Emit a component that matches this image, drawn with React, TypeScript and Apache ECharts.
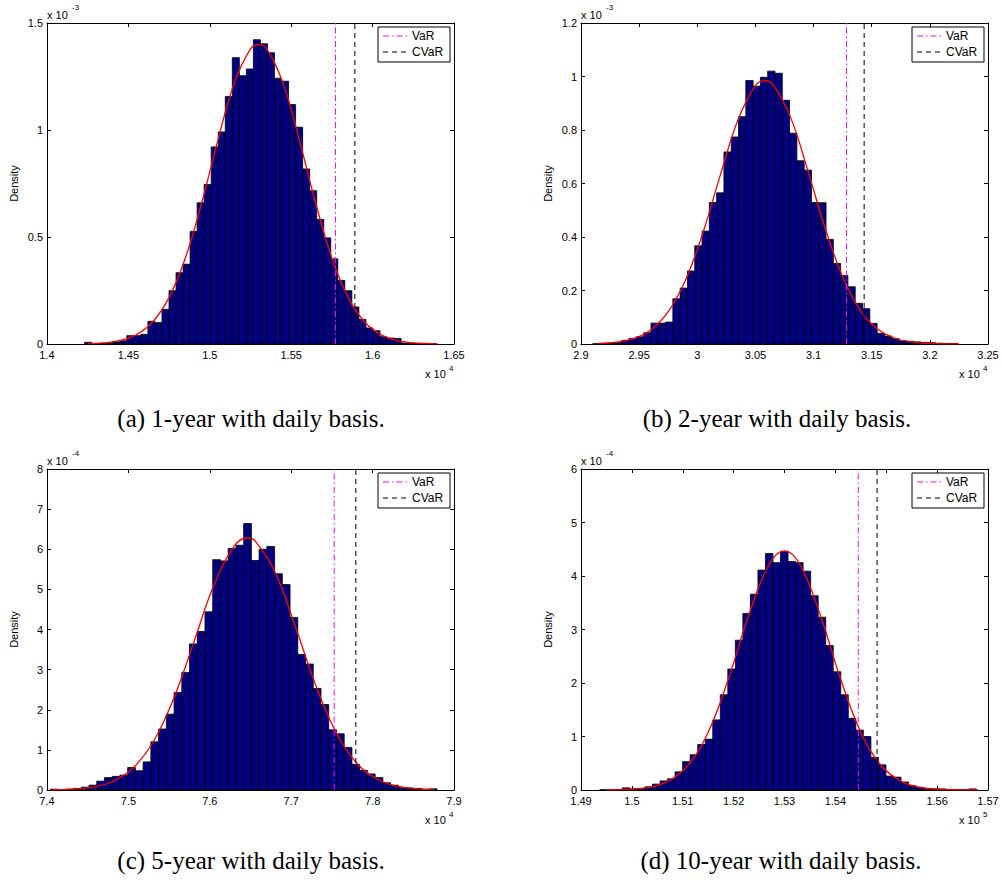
import { useEffect, useRef } from "react";
import * as echarts from "echarts";

// ---------- data ----------
const captions = [
  "(a) 1-year with daily basis.",
  "(b) 2-year with daily basis.",
  "(c) 5-year with daily basis.",
  "(d) 10-year with daily basis.",
];

// (a) 1-year : x in 1e4, density in 1e-3
const binStartA = 1.4231;
const binWidthA = 0.00432;
const densityA = [0.008, 0.002, 0.003, 0.005, 0.01, 0.015, 0.039, 0.039, 0.045, 0.106, 0.1, 0.162, 0.249, 0.333, 0.373, 0.526, 0.66, 0.745, 0.921, 0.991, 1.156, 1.338, 1.254, 1.285, 1.422, 1.403, 1.361, 1.242, 1.228, 1.119, 1.013, 0.818, 0.716, 0.582, 0.496, 0.398, 0.297, 0.249, 0.173, 0.115, 0.075, 0.062, 0.034, 0.028, 0.026, 0.005, 0.004, 0.003, 0.002, 0.002];
const fitXA = [1.425, 1.435, 1.445, 1.455, 1.465, 1.475, 1.485, 1.495, 1.505, 1.515, 1.525, 1.53, 1.535, 1.545, 1.555, 1.565, 1.575, 1.585, 1.595, 1.605, 1.615, 1.625, 1.635, 1.64];
const fitYA = [0.0016, 0.0054, 0.0164, 0.0439, 0.104, 0.218, 0.402, 0.659, 0.953, 1.219, 1.379, 1.4, 1.379, 1.219, 0.953, 0.659, 0.402, 0.218, 0.104, 0.0439, 0.0164, 0.0054, 0.0016, 0.0008];
const varA = 1.5772;
const cvarA = 1.5891;

// (b) 2-year : x in 1e4, density in 1e-3
const binStartB = 2.91;
const binWidthB = 0.006273;
const densityB = [0.001, 0.001, 0.003, 0.005, 0.014, 0.021, 0.027, 0.042, 0.078, 0.078, 0.082, 0.169, 0.209, 0.273, 0.367, 0.422, 0.529, 0.565, 0.718, 0.774, 0.85, 0.985, 0.964, 0.997, 1.02, 1.012, 0.911, 0.788, 0.685, 0.65, 0.529, 0.528, 0.391, 0.301, 0.256, 0.214, 0.152, 0.132, 0.077, 0.04, 0.03, 0.02, 0.012, 0.01, 0.008, 0.006, 0.005, 0.003, 0.002, 0.002];
const fitXB = [2.915, 2.93, 2.945, 2.96, 2.975, 2.99, 3.005, 3.02, 3.035, 3.05, 3.058, 3.065, 3.08, 3.095, 3.11, 3.125, 3.14, 3.155, 3.17, 3.185, 3.2, 3.215, 3.225];
const fitYB = [0.0019, 0.0067, 0.0201, 0.0527, 0.1206, 0.2405, 0.418, 0.634, 0.838, 0.966, 0.985, 0.97, 0.85, 0.649, 0.432, 0.251, 0.1268, 0.0559, 0.0215, 0.0072, 0.0021, 0.0005, 0.0002];
const varB = 3.1283;
const cvarB = 3.1435;

// (c) 5-year : x in 1e4, density in 1e-4
const binStartC = 7.4041;
const binWidthC = 0.0095;
const densityC = [0.02, 0.01, 0.02, 0.04, 0.07, 0.12, 0.22, 0.31, 0.34, 0.37, 0.56, 0.48, 0.7, 1.2, 1.52, 1.89, 2.43, 2.93, 3.64, 3.95, 4.44, 5.74, 5.71, 6.02, 6.1, 6.64, 5.72, 6.0, 6.07, 5.39, 5.12, 4.3, 3.38, 3.14, 2.53, 2.13, 1.5, 1.4, 1.06, 0.64, 0.49, 0.4, 0.31, 0.18, 0.12, 0.06, 0.05, 0.04, 0.02, 0.03];
const fitXC = [7.405, 7.43, 7.455, 7.48, 7.505, 7.53, 7.555, 7.58, 7.605, 7.63, 7.646, 7.655, 7.68, 7.705, 7.73, 7.755, 7.78, 7.805, 7.83, 7.855, 7.875];
const fitYC = [0.0047, 0.0193, 0.068, 0.206, 0.534, 1.183, 2.248, 3.66, 5.1, 6.08, 6.28, 6.22, 5.44, 4.08, 2.62, 1.438, 0.678, 0.273, 0.094, 0.028, 0.0094];
const varC = 7.7528;
const cvarC = 7.7794;

// (d) 10-year : x in 1e5, density in 1e-4
const binStartD = 1.4937;
const binWidthD = 0.00148;
const densityD = [0.005, 0.005, 0.01, 0.04, 0.02, 0.03, 0.06, 0.11, 0.17, 0.21, 0.34, 0.53, 0.66, 0.85, 0.95, 1.31, 1.78, 2.26, 2.8, 3.3, 3.66, 4.11, 4.42, 4.25, 4.46, 4.27, 4.25, 4.09, 3.63, 3.23, 2.7, 2.21, 1.78, 1.34, 1.12, 1.0, 0.61, 0.47, 0.26, 0.24, 0.15, 0.08, 0.05, 0.03, 0.02, 0.02, 0.01, 0.005, 0.005, 0.02];
const fitXD = [1.495, 1.499, 1.503, 1.507, 1.511, 1.515, 1.519, 1.523, 1.527, 1.53, 1.533, 1.537, 1.541, 1.545, 1.549, 1.553, 1.557, 1.561, 1.565, 1.568];
const fitYD = [0.002, 0.0104, 0.0448, 0.159, 0.458, 1.08, 2.083, 3.28, 4.22, 4.47, 4.22, 3.28, 2.083, 1.08, 0.458, 0.159, 0.0448, 0.0104, 0.002, 0.0005];
const varD = 1.5445;
const cvarD = 1.5482;

// axis ranges and exponent labels
const xMins = [1.4, 2.9, 7.4, 1.49];
const xMaxs = [1.65, 3.25, 7.9, 1.57];
const xSteps = [0.05, 0.05, 0.1, 0.01];
const yMaxs = [1.5, 1.2, 8, 6];
const ySteps = [0.5, 0.2, 1, 1];
const xExps = ["4", "4", "4", "5"];
const yExps = ["-3", "-3", "-4", "-4"];

// ---------- chart ----------
const SANS = "'Liberation Sans', Arial, Helvetica, sans-serif";
const SERIF = "'Liberation Serif', 'Times New Roman', serif";
const fmt = (v: number) => String(parseFloat(v.toFixed(6)));

const PW = 407;
const PH = 321;
const grids = [
  { left: 47, top: 23 },
  { left: 581, top: 23 },
  { left: 47, top: 469 },
  { left: 581, top: 469 },
];
const captionCx = [251, 777, 251, 781];
const captionCy = [418, 418, 860, 860];

function buildOption() {
  const panels = [
    { start: binStartA, width: binWidthA, dens: densityA, fx: fitXA, fy: fitYA, v: varA, c: cvarA },
    { start: binStartB, width: binWidthB, dens: densityB, fx: fitXB, fy: fitYB, v: varB, c: cvarB },
    { start: binStartC, width: binWidthC, dens: densityC, fx: fitXC, fy: fitYC, v: varC, c: cvarC },
    { start: binStartD, width: binWidthD, dens: densityD, fx: fitXD, fy: fitYD, v: varD, c: cvarD },
  ];

  const grid: any[] = [];
  const xAxis: any[] = [];
  const yAxis: any[] = [];
  const series: any[] = [];
  const graphic: any[] = [];

  panels.forEach((p, i) => {
    const g = grids[i];
    grid.push({ left: g.left, top: g.top, width: PW, height: PH, containLabel: false });
    const baseAxisLine = { show: true, onZero: false, lineStyle: { color: "#000", width: 1 } };
    const baseTick = { show: true, inside: true, length: 4, lineStyle: { color: "#000", width: 1 } };
    const xCommon = {
      type: "value",
      gridIndex: i,
      min: xMins[i],
      max: xMaxs[i],
      interval: xSteps[i],
      axisLine: baseAxisLine,
      axisTick: baseTick,
      splitLine: { show: false },
    };
    xAxis.push({
      ...xCommon,
      position: "bottom",
      axisLabel: { show: true, color: "#000", fontSize: 11, fontFamily: SANS, margin: 5, formatter: fmt, showMinLabel: true, showMaxLabel: true },
    });
    xAxis.push({ ...xCommon, position: "top", axisLabel: { show: false } });
    const yCommon = {
      type: "value",
      gridIndex: i,
      min: 0,
      max: yMaxs[i],
      interval: ySteps[i],
      axisLine: baseAxisLine,
      axisTick: baseTick,
      splitLine: { show: false },
    };
    yAxis.push({
      ...yCommon,
      position: "left",
      name: "Density",
      nameLocation: "middle",
      nameGap: 28,
      nameRotate: 90,
      nameTextStyle: { color: "#000", fontSize: 11, fontFamily: SANS },
      axisLabel: { show: true, color: "#000", fontSize: 11, fontFamily: SANS, margin: 4, formatter: fmt, showMinLabel: true, showMaxLabel: true },
    });
    yAxis.push({ ...yCommon, position: "right", axisLabel: { show: false } });

    const xi = i * 2;
    const yi = i * 2;
    series.push({
      type: "custom",
      name: "hist" + i,
      xAxisIndex: xi,
      yAxisIndex: yi,
      data: p.dens.map((h, k) => [p.start + k * p.width, p.start + (k + 1) * p.width, h]),
      encode: { x: [0, 1], y: 2 },
      renderItem: (_params: any, api: any) => {
        const a = api.coord([api.value(0), api.value(2)]);
        const b = api.coord([api.value(1), 0]);
        return {
          type: "rect",
          shape: { x: a[0], y: a[1], width: b[0] - a[0], height: b[1] - a[1] },
          style: { fill: "#000080", stroke: "#000", lineWidth: 0.8 },
        };
      },
      z: 1,
    });
    series.push({
      type: "line",
      name: "fit" + i,
      xAxisIndex: xi,
      yAxisIndex: yi,
      data: p.fx.map((x, k) => [x, p.fy[k]]),
      smooth: 0.4,
      showSymbol: false,
      symbol: "none",
      lineStyle: { color: "#ff0000", width: 1.3 },
      z: 3,
    });
    series.push({
      type: "line",
      name: "VaR",
      xAxisIndex: xi,
      yAxisIndex: yi,
      data: [[p.v, 0], [p.v, yMaxs[i]]],
      showSymbol: false,
      symbol: "none",
      lineStyle: { color: "#ff00ff", width: 1, type: [6, 3, 1.5, 3] },
      z: 4,
    });
    series.push({
      type: "line",
      name: "CVaR",
      xAxisIndex: xi,
      yAxisIndex: yi,
      data: [[p.c, 0], [p.c, yMaxs[i]]],
      showSymbol: false,
      symbol: "none",
      lineStyle: { color: "#000000", width: 1, type: [5, 4] },
      z: 4,
    });

    // legend box
    const bl = g.left + PW - 76;
    const bt = g.top + 4;
    graphic.push({
      type: "rect",
      shape: { x: bl, y: bt, width: 72, height: 35 },
      style: { fill: "#fff", stroke: "#000", lineWidth: 1 },
      z: 10,
    });
    graphic.push({
      type: "line",
      shape: { x1: bl + 5, y1: bt + 9, x2: bl + 29, y2: bt + 9 },
      style: { stroke: "#ff00ff", lineWidth: 1, lineDash: [6, 3, 1.5, 3] },
      z: 11,
    });
    graphic.push({
      type: "line",
      shape: { x1: bl + 5, y1: bt + 25, x2: bl + 29, y2: bt + 25 },
      style: { stroke: "#000", lineWidth: 1, lineDash: [5, 4] },
      z: 11,
    });
    graphic.push({
      type: "text",
      x: bl + 34,
      y: bt + 9,
      style: { text: "VaR", fill: "#000", font: "12px " + SANS, align: "left", verticalAlign: "middle", textAlign: "left", textVerticalAlign: "middle" },
      z: 11,
    });
    graphic.push({
      type: "text",
      x: bl + 34,
      y: bt + 25,
      style: { text: "CVaR", fill: "#000", font: "12px " + SANS, align: "left", verticalAlign: "middle", textAlign: "left", textVerticalAlign: "middle" },
      z: 11,
    });

    // exponent labels
    graphic.push({
      type: "text",
      x: g.left,
      y: g.top - 8,
      style: { text: "x 10", fill: "#000", font: "11px " + SANS, align: "left", verticalAlign: "middle", textAlign: "left", textVerticalAlign: "middle" },
    });
    graphic.push({
      type: "text",
      x: g.left + 25,
      y: g.top - 16,
      style: { text: yExps[i], fill: "#000", font: "8px " + SANS, align: "left", verticalAlign: "middle", textAlign: "left", textVerticalAlign: "middle" },
    });
    graphic.push({
      type: "text",
      x: g.left + PW - 29,
      y: g.top + PH + 30,
      style: { text: "x 10", fill: "#000", font: "11px " + SANS, align: "left", verticalAlign: "middle", textAlign: "left", textVerticalAlign: "middle" },
    });
    graphic.push({
      type: "text",
      x: g.left + PW - 5,
      y: g.top + PH + 24,
      style: { text: xExps[i], fill: "#000", font: "8px " + SANS, align: "left", verticalAlign: "middle", textAlign: "left", textVerticalAlign: "middle" },
    });

    // caption
    graphic.push({
      type: "text",
      x: captionCx[i],
      y: captionCy[i],
      style: { text: captions[i], fill: "#000", font: "25px " + SERIF, align: "center", verticalAlign: "middle", textAlign: "center", textVerticalAlign: "middle" },
    });
  });

  return {
    animation: false,
    backgroundColor: "#fff",
    grid,
    xAxis,
    yAxis,
    series,
    graphic,
  };
}

export default function App() {
  const ref = useRef<HTMLDivElement>(null);
  useEffect(() => {
    if (!ref.current) return;
    const chart = echarts.init(ref.current, undefined, { renderer: "svg" });
    chart.setOption(buildOption() as any);
    return () => chart.dispose();
  }, []);
  return (
    <div
      ref={ref}
      style={{ position: "absolute", left: 0, top: 0, width: 1002, height: 884, background: "#fff" }}
    />
  );
}
